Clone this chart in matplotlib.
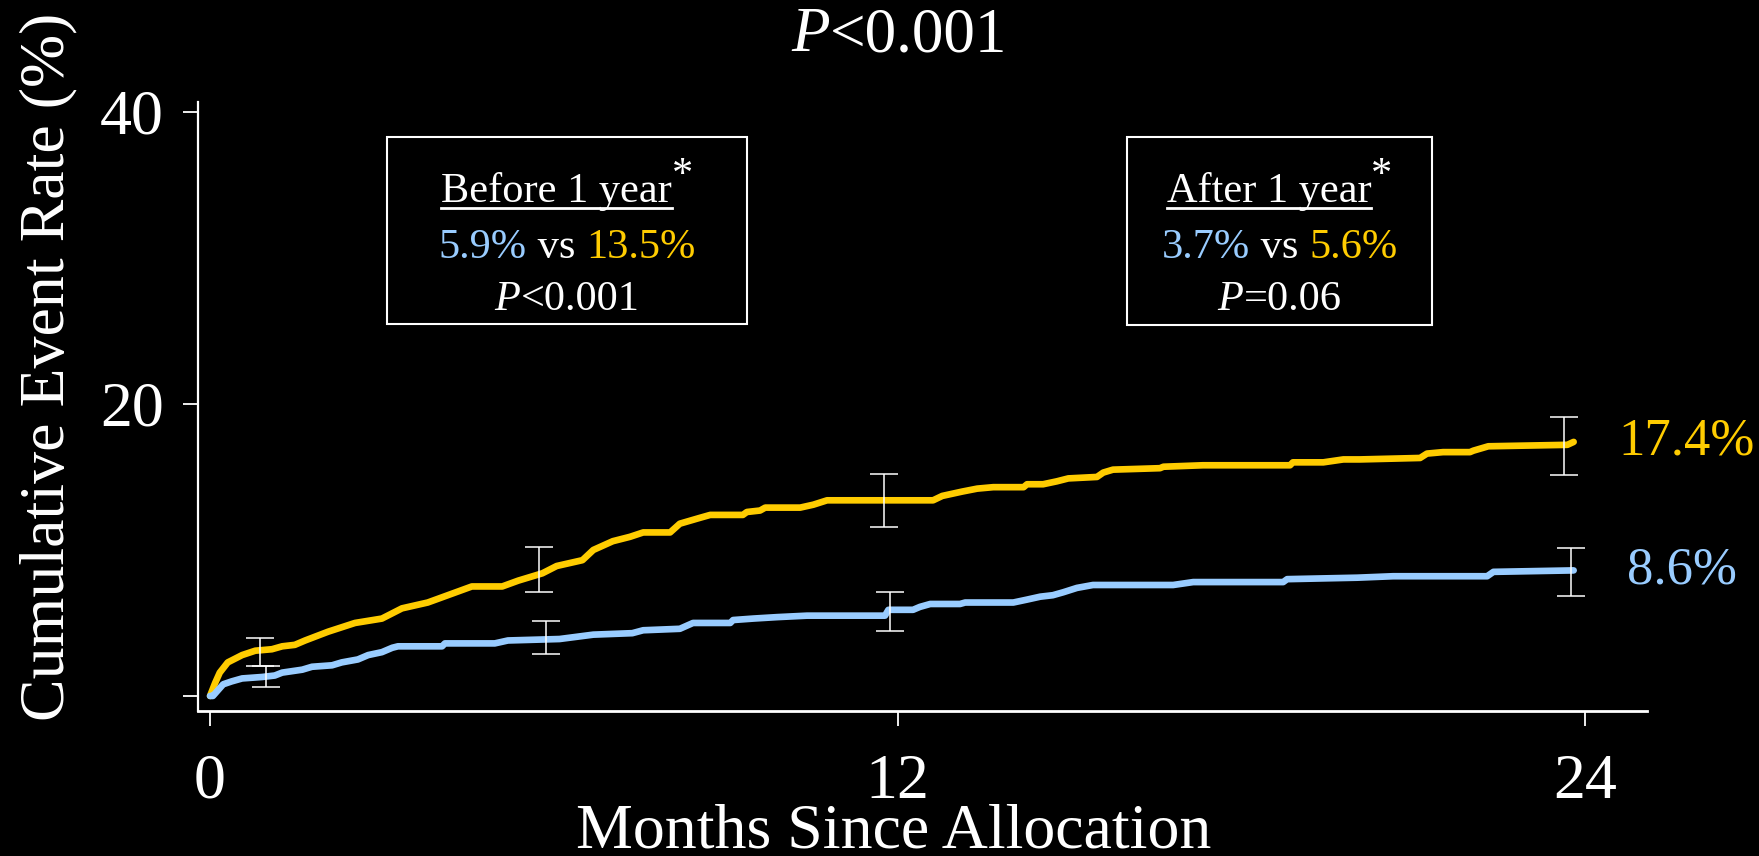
import matplotlib
matplotlib.use("Agg")
import matplotlib.pyplot as plt
from matplotlib.lines import Line2D
from matplotlib.patches import Rectangle
import numpy as np

plt.rcParams['font.family'] = ['Liberation Serif', 'DejaVu Serif']

# ---- data -------------------------------------------------------------
gold_months = [0, 0.09, 0.17, 0.31, 0.56, 0.79, 1.08, 1.26, 1.48, 1.66,
               2.06, 2.53, 3.0, 3.35, 3.8, 4.15, 4.57, 5.1, 5.38, 5.8,
               6.05, 6.5, 6.69, 7.03, 7.33, 7.56, 8.03, 8.2, 8.55, 8.73,
               9.3, 9.37, 9.6, 9.69, 10.3, 10.53, 10.77, 12.62, 12.78, 13.13,
               13.39, 13.67, 14.2, 14.26, 14.54, 14.78, 14.98, 15.48, 15.59, 15.76,
               16.58, 16.64, 17.33, 18.85, 18.9, 19.43, 19.78, 20.07, 21.12, 21.24,
               21.52, 21.99, 22.05, 22.31, 23.69, 23.8]
gold_rate = [0, 0.9, 1.6, 2.3, 2.8, 3.1, 3.2, 3.4, 3.5, 3.8,
             4.4, 5.0, 5.3, 6.0, 6.4, 6.9, 7.5, 7.5, 7.9, 8.4,
             8.9, 9.3, 10.0, 10.6, 10.9, 11.2, 11.2, 11.8, 12.2, 12.4,
             12.4, 12.6, 12.7, 12.9, 12.9, 13.1, 13.4, 13.4, 13.7, 14.0,
             14.2, 14.3, 14.3, 14.5, 14.5, 14.7, 14.9, 15.0, 15.3, 15.5,
             15.6, 15.7, 15.8, 15.8, 16.0, 16.0, 16.2, 16.2, 16.3, 16.6,
             16.7, 16.7, 16.8, 17.1, 17.2, 17.4]

blue_months = [0, 0.05, 0.14, 0.23, 0.38, 0.56, 0.91, 1.13, 1.26, 1.61,
               1.78, 2.13, 2.3, 2.58, 2.76, 3.0, 3.18, 3.28, 4.05, 4.1,
               4.97, 5.2, 6.1, 6.69, 7.37, 7.56, 8.2, 8.43, 9.08, 9.13,
               9.48, 9.9, 10.42, 10.47, 11.78, 11.84, 12.27, 12.39, 12.57, 13.09,
               13.18, 14.02, 14.26, 14.49, 14.71, 14.89, 15.13, 15.41, 16.81, 17.16,
               18.73, 18.8, 20.02, 20.65, 22.29, 22.4, 23.8]
blue_rate = [0, 0, 0.4, 0.8, 1.0, 1.2, 1.3, 1.4, 1.6, 1.8,
             2.0, 2.1, 2.3, 2.5, 2.8, 3.0, 3.3, 3.4, 3.4, 3.6,
             3.6, 3.8, 3.9, 4.2, 4.3, 4.5, 4.6, 5.0, 5.0, 5.2,
             5.3, 5.4, 5.5, 5.5, 5.5, 5.9, 5.9, 6.1, 6.3, 6.3,
             6.4, 6.4, 6.6, 6.8, 6.9, 7.1, 7.4, 7.6, 7.6, 7.8,
             7.8, 8.0, 8.1, 8.2, 8.2, 8.5, 8.6]

# 95% confidence limits at selected time points
gold_ci_months = [0.87, 5.74, 11.76, 23.63]
gold_ci_low = [2.05, 7.1, 11.6, 15.1]
gold_ci_high = [4.0, 10.2, 15.2, 19.1]
blue_ci_months = [0.98, 5.86, 11.87, 23.76]
blue_ci_low = [0.6, 2.9, 4.45, 6.85]
blue_ci_high = [2.05, 5.1, 7.1, 10.1]

# landmark rates (blue, gold) and p-values
before_rates = [5.9, 13.5]
after_rates = [3.7, 5.6]
p_overall = "<0.001"
p_before = "<0.001"
p_after = "=0.06"

x_ticks = [0, 12, 24]
x_tick_labels = ["0", "12", "24"]
y_ticks = [0, 20, 40]
y_tick_labels = ["", "20", "40"]

GOLD = "#FFCC00"
BLUE = "#99CCFF"
WHITE = "white"

# ---- figure -----------------------------------------------------------
W, H = 1759, 856
fig = plt.figure(figsize=(W / 100, H / 100), dpi=100, facecolor="black")
renderer = fig.canvas.get_renderer()


def fpos(x, y):
    return x / W, 1 - y / H


def advance(s, size, style):
    probe = fig.text(0, 0, "|" + s + "|", fontsize=size, style=style)
    bare = fig.text(0, 0, "||", fontsize=size, style=style)
    w = probe.get_window_extent(renderer).width - bare.get_window_extent(renderer).width
    probe.remove()
    bare.remove()
    return w


def centered_run(cx, base, pieces, size):
    widths = [advance(t, size, st) for t, c, st, r in pieces]
    x = cx - sum(widths) / 2
    starts = []
    for (t, c, st, rise), w in zip(pieces, widths):
        fig.text(*fpos(x, base - rise), t, color=c, fontsize=size, style=st,
                 ha="left", va="baseline")
        starts.append(x)
        x += w
    return starts, widths


ax = fig.add_axes([198 / W, 1 - 711 / H, (1647 - 198) / W, (711 - 102) / H])
ax.set_facecolor("black")
ax.set_xlim(-0.21, 25.08)
ax.set_ylim(-1.03, 40.68)
for s in ["top", "right"]:
    ax.spines[s].set_visible(False)
ax.spines["left"].set_color(WHITE)
ax.spines["left"].set_linewidth(1.6)
ax.spines["bottom"].set_color(WHITE)
ax.spines["bottom"].set_linewidth(2.0)

ax.set_xticks(x_ticks, x_tick_labels)
ax.set_yticks(y_ticks, y_tick_labels)
ax.tick_params(colors=WHITE, labelsize=46, length=10.8, width=1.3, direction="out")
ax.tick_params(axis="x", pad=20)
ax.tick_params(axis="y", pad=13.7)

ax.set_ylabel("Cumulative Event Rate (%)", fontsize=46, color=WHITE)
ax.yaxis.set_label_coords(-0.1035, 0.5649)
ax.yaxis.label.set_va("center")
ax.set_xlabel("Months Since Allocation", fontsize=46, color=WHITE)
ax.xaxis.set_label_coords((894 - 198) / 1449, (711 - 848) / 609)
ax.xaxis.label.set_va("baseline")

# cumulative incidence curves
ax.plot(gold_months, gold_rate, color=GOLD, lw=4.8, solid_capstyle="round",
        solid_joinstyle="round", zorder=3)
ax.plot(blue_months, blue_rate, color=BLUE, lw=4.8, solid_capstyle="round",
        solid_joinstyle="round", zorder=3)

# confidence intervals
for months, lo, hi in [(gold_ci_months, gold_ci_low, gold_ci_high),
                       (blue_ci_months, blue_ci_low, blue_ci_high)]:
    lo = np.array(lo)
    hi = np.array(hi)
    mid = (lo + hi) / 2
    ax.errorbar(months, mid, yerr=(hi - lo) / 2, fmt="none", ecolor=WHITE,
                elinewidth=1.1, capsize=10, capthick=1.1, zorder=4)

# end-of-follow-up rates
ax.text(24.58, gold_rate[-1], f"{gold_rate[-1]}%", color=GOLD, fontsize=38,
        ha="left", va="center")
ax.text(24.73, blue_rate[-1], f"{blue_rate[-1]}%", color=BLUE, fontsize=38,
        ha="left", va="center")

# overall p-value
centered_run(899, 51, [("P", WHITE, "italic", 0), (p_overall, WHITE, "normal", 0)], 45.5)

# landmark boxes
boxes = [
    (387, 137, 747, 324, "Before 1 year", before_rates, p_before),
    (1127, 137, 1432, 325, "After 1 year", after_rates, p_after),
]
for x0, y0, x1, y1, heading, rates, pval in boxes:
    fig.add_artist(Rectangle(fpos(x0, y1), (x1 - x0) / W, (y1 - y0) / H,
                             transform=fig.transFigure, fill=False,
                             edgecolor=WHITE, lw=1.5))
    cx = (x0 + x1) / 2
    starts, widths = centered_run(
        cx, 202, [(heading, WHITE, "normal", 0), ("*", WHITE, "normal", 16)], 30.5)
    ux0, ux1 = starts[0], starts[0] + widths[0]
    fig.add_artist(Line2D([ux0 / W, ux1 / W], [1 - 208 / H] * 2,
                          transform=fig.transFigure, color=WHITE, lw=2.0))
    centered_run(cx, 258, [(f"{rates[0]}%", BLUE, "normal", 0),
                           (" vs ", WHITE, "normal", 0),
                           (f"{rates[1]}%", GOLD, "normal", 0)], 30.5)
    centered_run(cx, 310, [("P", WHITE, "italic", 0), (pval, WHITE, "normal", 0)], 30.5)

fig.savefig("out.png", dpi=100, facecolor="black")
